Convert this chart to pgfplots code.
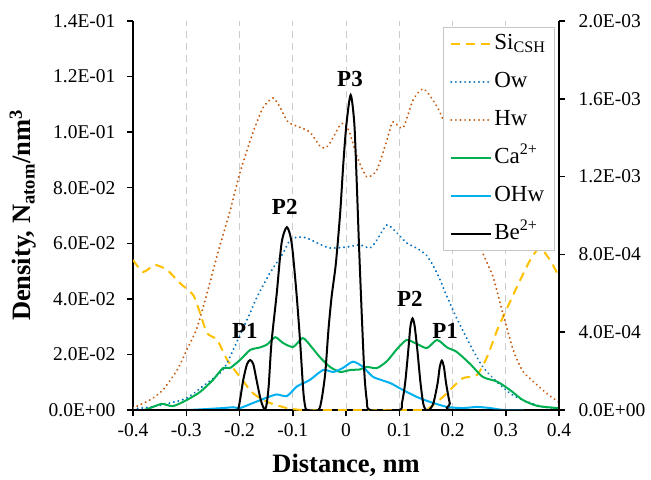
\documentclass[border=0pt]{standalone}
\usepackage{fontspec}
\setmainfont{Liberation Serif}
\usepackage{pgfplots}
\pgfplotsset{compat=1.18}

\definecolor{siC}{RGB}{255,192,0}
\definecolor{owC}{RGB}{0,112,192}
\definecolor{hwC}{RGB}{197,90,17}
\definecolor{caC}{RGB}{0,176,80}
\definecolor{ohC}{RGB}{0,176,240}

\pgfplotsset{
  common/.style={
    width=426pt, height=389pt, scale only axis,
    xmin=-0.4, xmax=0.4,
    tick align=outside,
    major tick length=6pt,
    axis line style={line width=1.5pt, black},
    major tick style={line width=1.5pt, black},
    tick label style={font=\fontsize{19.5}{24}\selectfont},
  },
  dotline/.style={line width=2.2pt, line cap=round, dash pattern=on 0.01pt off 4.6pt, smooth, tension=0.4},
}

\begin{document}
\begin{tikzpicture}
\begin{axis}[common,
  axis x line*=bottom, axis y line*=left,
  ymin=0, ymax=14,
  xtick={-0.4,-0.3,-0.2,-0.1,0,0.1,0.2,0.3,0.4},
  xticklabels={-0.4,-0.3,-0.2,-0.1,0,0.1,0.2,0.3,0.4},
  ytick={0,2,4,6,8,10,12,14},
  yticklabels={0.0E+00,2.0E-02,4.0E-02,6.0E-02,8.0E-02,1.0E-01,1.2E-01,1.4E-01},
  yticklabel style={xshift=-8pt},
  xticklabel style={yshift=-4pt},
  xmajorgrids,
  major grid style={gray!40, line width=0.8pt, dash pattern=on 7pt off 5pt},
]
\coordinate (ll) at (rel axis cs:0,0);
\coordinate (ur) at (rel axis cs:1,1);
\coordinate (ylab) at (rel axis cs:0,0.5);
\coordinate (xlab) at (rel axis cs:0.5,0);

% Si_CSH
\addplot[siC, line width=2pt, dash pattern=on 9pt off 6pt, smooth, tension=0.4] coordinates {
(-0.400,5.40) (-0.381,4.97) (-0.359,5.22) (-0.336,5.04) (-0.312,4.57) (-0.287,4.14)
(-0.274,3.49) (-0.261,2.77) (-0.242,2.52) (-0.223,1.80) (-0.199,1.19) (-0.175,0.61)
(-0.148,0.29) (-0.111,0.07) (-0.080,0.0) (0.0,0.0) (0.140,0.0) (0.158,0.10)
(0.182,0.47) (0.201,0.83) (0.220,1.15) (0.246,1.26) (0.265,1.91) (0.284,2.88)
(0.295,3.35) (0.321,4.43) (0.346,5.40) (0.364,5.83) (0.383,5.40) (0.400,4.80)};

% Ow
\addplot[owC, dotline] coordinates {
(-0.400,0.05) (-0.368,0.10) (-0.331,0.25) (-0.299,0.43) (-0.261,0.97) (-0.231,1.44)
(-0.212,2.16) (-0.186,3.24) (-0.167,4.07) (-0.143,4.93) (-0.118,5.65) (-0.105,6.12)
(-0.090,6.22) (-0.075,6.20) (-0.054,6.01) (-0.030,5.83) (0.002,5.87) (0.026,5.94)
(0.045,5.83) (0.058,6.12) (0.077,6.66) (0.096,6.37) (0.114,6.01) (0.133,5.82)
(0.152,5.55) (0.171,4.93) (0.190,4.07) (0.208,3.30) (0.233,2.35) (0.257,1.55)
(0.284,1.00) (0.308,0.60) (0.332,0.36) (0.370,0.11) (0.400,0.07)};

% Hw
\addplot[hwC, dotline] coordinates {
(-0.400,0.08) (-0.368,0.36) (-0.344,0.72) (-0.317,1.44) (-0.299,2.16) (-0.280,2.95)
(-0.261,4.20) (-0.240,5.70) (-0.218,7.15) (-0.199,8.55) (-0.175,9.97) (-0.156,10.87)
(-0.137,11.23) (-0.124,10.90) (-0.109,10.37) (-0.090,10.20) (-0.068,10.00) (-0.049,9.50)
(-0.039,9.43) (-0.030,9.61) (-0.011,10.26) (-0.002,10.30) (0.007,9.97) (0.021,9.11)
(0.039,8.39) (0.058,8.64) (0.077,9.72) (0.088,10.37) (0.107,10.15) (0.126,11.16)
(0.145,11.56) (0.163,11.16) (0.177,10.69) (0.200,9.60) (0.220,8.20) (0.240,6.80)
(0.257,5.65) (0.276,4.80) (0.295,3.45) (0.314,2.16) (0.332,1.40) (0.359,0.90)
(0.380,0.55) (0.400,0.28)};

% Ca2+
\addplot[caC, line width=2pt, smooth, tension=0.4] coordinates {
(-0.400,0.0) (-0.380,0.0) (-0.368,0.07) (-0.346,0.22) (-0.325,0.14) (-0.299,0.36)
(-0.274,0.65) (-0.250,1.08) (-0.231,1.51) (-0.218,1.51) (-0.199,1.80) (-0.180,2.16)
(-0.162,2.25) (-0.148,2.36) (-0.133,2.62) (-0.118,2.41) (-0.099,2.27) (-0.081,2.59)
(-0.064,2.25) (-0.049,1.90) (-0.030,1.55) (-0.011,1.37) (0.008,1.44) (0.026,1.46)
(0.039,1.55) (0.058,1.51) (0.077,1.76) (0.096,2.20) (0.114,2.52) (0.133,2.38)
(0.152,2.23) (0.171,2.52) (0.190,2.25) (0.208,2.09) (0.233,1.66) (0.257,1.19)
(0.284,1.02) (0.308,0.72) (0.332,0.36) (0.359,0.15) (0.396,0.07) (0.400,0.07)};

% OHw
\addplot[ohC, line width=2pt, smooth, tension=0.4] coordinates {
(-0.400,0.0) (-0.300,0.0) (-0.231,0.07) (-0.212,0.10) (-0.199,0.07) (-0.175,0.25)
(-0.148,0.45) (-0.130,0.56) (-0.111,0.50) (-0.092,0.85) (-0.068,1.08) (-0.043,1.44)
(-0.024,1.37) (-0.006,1.51) (0.013,1.74) (0.032,1.55) (0.051,1.19) (0.083,0.97)
(0.107,0.72) (0.133,0.47) (0.158,0.29) (0.190,0.11) (0.220,0.07) (0.246,0.11)
(0.271,0.07) (0.300,0.0) (0.400,0.0)};

\node[font=\fontsize{23}{26}\selectfont\bfseries] at (axis cs:-0.190,2.85) {P1};
\node[font=\fontsize{23}{26}\selectfont\bfseries] at (axis cs:-0.115,7.30) {P2};
\node[font=\fontsize{23}{26}\selectfont\bfseries] at (axis cs:0.0075,11.90) {P3};
\node[font=\fontsize{23}{26}\selectfont\bfseries] at (axis cs:0.120,4.00) {P2};
\node[font=\fontsize{23}{26}\selectfont\bfseries] at (axis cs:0.186,2.85) {P1};
\end{axis}

\begin{axis}[common,
  axis x line=none, axis y line*=right,
  ymin=0, ymax=20,
  ytick={0,4,8,12,16,20},
  yticklabels={0.0E+00,4.0E-04,8.0E-04,1.2E-03,1.6E-03,2.0E-03},
  yticklabel style={xshift=10pt},
  legend cell align=left,
  legend style={at={(0.99,0.985)}, anchor=north east, draw=gray!45, line width=0.7pt,
    fill=white, font=\fontsize{23}{26}\selectfont, row sep=11pt, inner xsep=7pt, inner ysep=3pt,
    nodes={inner sep=2pt, text height=17pt, text depth=6pt}},
  legend image code/.code={\draw[#1] (0pt,0pt) -- (40pt,0pt);},
]
\addlegendimage{siC, line width=2pt, dash pattern=on 9pt off 6pt}
\addlegendentry{Si\textsubscript{CSH}}
\addlegendimage{owC, line width=2.2pt, line cap=round, dash pattern=on 0.01pt off 4.6pt}
\addlegendentry{Ow}
\addlegendimage{hwC, line width=2.2pt, line cap=round, dash pattern=on 0.01pt off 4.6pt}
\addlegendentry{Hw}
\addlegendimage{caC, line width=2pt}
\addlegendentry{Ca\textsuperscript{2+}}
\addlegendimage{ohC, line width=2pt}
\addlegendentry{OHw}

% Be2+ (units of 1e-4)
\addplot[black, line width=2pt, smooth, tension=0.45] coordinates {
(-0.400,0) (-0.210,0) (-0.203,0) (-0.199,0.51) (-0.193,1.54) (-0.186,2.35) (-0.180,2.57)
(-0.174,2.35) (-0.168,1.54) (-0.160,0.51) (-0.153,0.02)
(-0.149,0.30) (-0.145,1.30) (-0.140,3.44) (-0.130,6.01) (-0.121,8.58) (-0.111,9.40)
(-0.102,8.58) (-0.093,6.01) (-0.086,3.44) (-0.080,0.90) (-0.076,0.10) (-0.072,0)
(-0.052,0) (-0.046,0.51) (-0.039,1.89) (-0.033,4.11) (-0.027,5.83) (-0.019,7.54)
(-0.011,10.11) (-0.005,12.68) (0.001,14.74) (0.0088,16.20) (0.0156,14.74) (0.020,11.83)
(0.0245,8.40) (0.0295,4.97) (0.0345,1.89) (0.039,0.51) (0.045,0)
(0.100,0) (0.105,0.34) (0.111,1.37) (0.117,3.08) (0.121,4.30) (0.125,4.71) (0.129,4.30)
(0.134,3.08) (0.140,1.37) (0.145,0.34) (0.150,0)
(0.156,0) (0.164,0.34) (0.172,1.37) (0.176,2.20) (0.180,2.54) (0.184,2.20) (0.188,1.37)
(0.195,0.34) (0.2015,0) (0.400,0)};
\addlegendentry{Be\textsuperscript{2+}}
\end{axis}

\node[rotate=90, anchor=base, font=\fontsize{26.5}{30}\selectfont\bfseries]
  at ([xshift=-102pt]ylab) {Density, N\textsubscript{atom}/nm\textsuperscript{3}};
\node[anchor=base, font=\fontsize{26.5}{30}\selectfont\bfseries, inner sep=1pt]
  at ([yshift=-62pt]xlab) {Distance, nm};

\pgfresetboundingbox
\path[use as bounding box] ([xshift=-133pt,yshift=-69pt]ll) rectangle ([xshift=92pt,yshift=21pt]ur);
\end{tikzpicture}
\end{document}
